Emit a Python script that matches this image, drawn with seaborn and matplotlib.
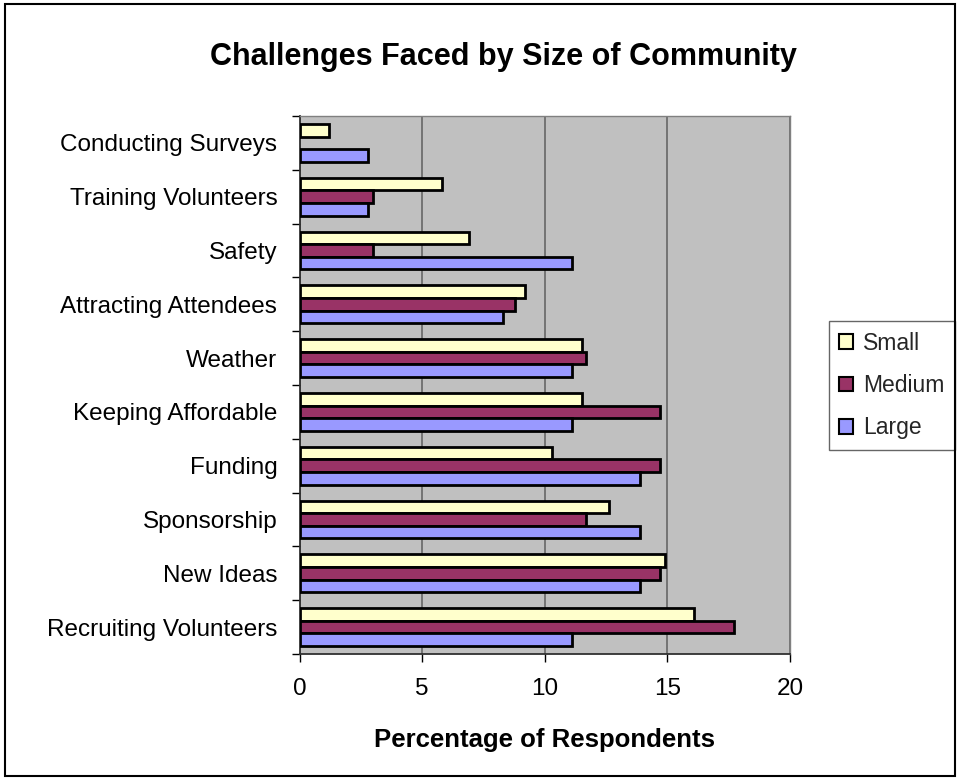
import numpy as np
import pandas as pd
import matplotlib
matplotlib.use("Agg")
import matplotlib.pyplot as plt
from matplotlib.ticker import FixedLocator
from matplotlib.patches import Rectangle
import seaborn as sns

categories = ["Conducting Surveys", "Training Volunteers", "Safety",
              "Attracting Attendees", "Weather", "Keeping Affordable",
              "Funding", "Sponsorship", "New Ideas", "Recruiting Volunteers"]
small = [1.2, 5.8, 6.9, 9.2, 11.5, 11.5, 10.3, 12.6, 14.9, 16.1]
medium = [np.nan, 3.0, 3.0, 8.8, 11.7, 14.7, 14.7, 11.7, 14.7, 17.7]
large = [2.8, 2.8, 11.1, 8.3, 11.1, 11.1, 13.9, 13.9, 13.9, 11.1]
series = ["Small", "Medium", "Large"]
colors = ["#FFFFCC", "#993366", "#9999FF"]
xticks = [0, 5, 10, 15, 20]

df = pd.DataFrame({
    "Challenge": categories * 3,
    "Size": ["Small"] * 10 + ["Medium"] * 10 + ["Large"] * 10,
    "Value": small + medium + large,
})

sns.set_theme(style="white")
plt.rcParams["font.family"] = ["Liberation Sans", "DejaVu Sans"]

fig = plt.figure(figsize=(9.57, 7.8), dpi=100)
ax = fig.add_axes([299.5 / 957, 1 - 654 / 780, (790 - 299.5) / 957, (654 - 116) / 780])
ax.set_facecolor("#C0C0C0")

sns.barplot(data=df, y="Challenge", x="Value", hue="Size", order=categories,
            hue_order=series, palette=colors, orient="h", errorbar=None,
            width=0.7, edgecolor="black", linewidth=2.0, saturation=1,
            ax=ax, legend=True, zorder=3)

ax.set_xlim(0, 20)
ax.set_xticks(xticks)
ax.set_xticklabels([str(t) for t in xticks])
ax.xaxis.grid(True, color="#6E6E6E", linewidth=1.3, zorder=0)
ax.set_axisbelow(True)
ax.yaxis.grid(False)

ax.yaxis.set_minor_locator(FixedLocator(np.arange(-0.5, 10.0, 1.0)))
ax.tick_params(axis="y", which="major", length=0, pad=16, labelsize=17.5, colors="black")
ax.tick_params(axis="y", which="minor", length=5.5, width=1, color="black", direction="out", left=True)
ax.tick_params(axis="x", which="major", length=6, width=1, color="black", direction="out",
               bottom=True, pad=11, labelsize=17.5, labelcolor="black")

for side in ["left", "bottom"]:
    ax.spines[side].set_color("#303030")
    ax.spines[side].set_linewidth(1.3)
for side in ["top", "right"]:
    ax.spines[side].set_color("#808080")
    ax.spines[side].set_linewidth(1.0)

ax.set_xlabel("")
ax.set_ylabel("")

handles, labels = ax.get_legend_handles_labels()
ax.get_legend().remove()
leg = fig.legend(handles, labels, loc="center left", bbox_to_anchor=(829 / 957, 1 - 385.5 / 780),
                 frameon=True, fancybox=False, fontsize=16.5, handlelength=0.6, handleheight=0.6,
                 handletextpad=0.45, labelspacing=0.85, borderpad=0.45, borderaxespad=0)
leg.get_frame().set_edgecolor("#404040")
leg.get_frame().set_linewidth(1.0)
leg.get_frame().set_facecolor("white")
for h in leg.legend_handles:
    h.set_edgecolor("black")
    h.set_linewidth(1.5)

fig.text(503.5 / 957, 1 - 57 / 780, "Challenges Faced by Size of Community",
         ha="center", va="center", fontsize=22, fontweight="bold", color="black")
fig.text(544.75 / 957, 1 - 740 / 780, "Percentage of Respondents",
         ha="center", va="center", fontsize=18.5, fontweight="bold", color="black")

fig.patches.append(Rectangle((5 / 957, 4 / 780), 950 / 957, 772 / 780, transform=fig.transFigure,
                             fill=False, edgecolor="black", linewidth=1.5, zorder=10))

fig.savefig("out.png", dpi=100)
